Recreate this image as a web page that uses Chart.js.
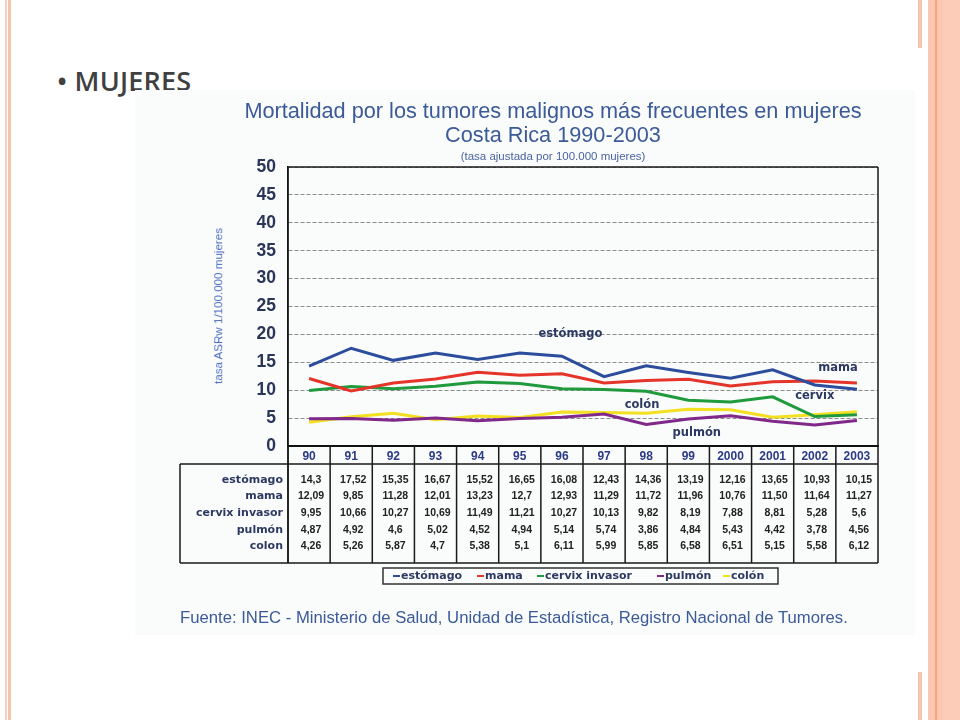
<!DOCTYPE html>
<html>
<head>
<meta charset="utf-8">
<script src="https://cdn.jsdelivr.net/npm/chart.js@4.4.0/dist/chart.umd.min.js"></script>
<style>
  html, body { margin: 0; padding: 0; background: #fff; }
  body { width: 960px; height: 720px; position: relative; overflow: hidden; font-family: Arial, "Liberation Sans", sans-serif; }
  .bar { position: absolute; }
  .txt { position: absolute; white-space: nowrap; line-height: 1; }
  .ctr { transform: translateX(-50%); }
  #wrap { position: absolute; left: 135px; top: 90px; width: 780px; height: 545px; background: #fafbfb; }
</style>
</head>
<body>
<!-- slide frame -->
<div class="bar" style="left:5px;top:0;width:2px;height:720px;background:#f8cdb9"></div>
<div class="bar" style="left:8px;top:0;width:3px;height:720px;background:#f6c2aa"></div>
<div class="bar" style="left:918px;top:0;width:4px;height:48px;background:#f8c6b0"></div>
<div class="bar" style="left:918px;top:672px;width:4px;height:48px;background:#f8c6b0"></div>
<div class="bar" style="left:928px;top:0;width:32px;height:720px;background:#fcc7b1"></div>
<div class="bar" style="left:935px;top:0;width:2px;height:720px;background:#f1a77f"></div>
<div class="bar" style="left:943px;top:0;width:17px;height:720px;background:#fdccb8"></div>

<div class="txt" style="left:57px;top:67px;font-family:'Open Sans';font-weight:600;font-size:27px;color:#404040;letter-spacing:0.2px">• MUJERES</div>
<div style="position:absolute;left:74px;top:671px;height:5px;overflow:hidden">
  <div class="txt" style="position:relative;font-family:'Open Sans';font-weight:600;font-size:27px;color:#555;letter-spacing:0.2px">HOMBRES</div>
</div>

<div id="wrap"><canvas id="chart" width="780" height="545"></canvas></div>

<div class="txt ctr" style="left:553px;top:100px;font-size:21.7px;color:#3b5a98">Mortalidad por los tumores malignos más frecuentes en mujeres</div>
<div class="txt ctr" style="left:553px;top:124px;font-size:21.7px;color:#3b5a98">Costa Rica 1990-2003</div>
<div class="txt ctr" style="left:553px;top:151px;font-size:11.5px;color:#4a64a0">(tasa ajustada por 100.000 mujeres)</div>
<div class="txt" style="left:218px;top:306px;font-size:11.6px;color:#4c6cc0;transform:translate(-50%,-50%) rotate(-90deg)">tasa ASRw 1/100.000 mujeres</div>
<div class="txt" style="left:180px;top:610px;font-size:16.7px;color:#3b5a98">Fuente: INEC - Ministerio de Salud, Unidad de Estadística, Registro Nacional de Tumores.</div>

<script>
// ── Données ────────────────────────────────────────────────────
const years = ['90', '91', '92', '93', '94', '95', '96', '97', '98', '99', '2000', '2001', '2002', '2003'];

const estomago = ['14,3', '17,52', '15,35', '16,67', '15,52', '16,65', '16,08', '12,43', '14,36', '13,19', '12,16', '13,65', '10,93', '10,15'];
const mama     = ['12,09', '9,85', '11,28', '12,01', '13,23', '12,7', '12,93', '11,29', '11,72', '11,96', '10,76', '11,50', '11,64', '11,27'];
const cervix   = ['9,95', '10,66', '10,27', '10,69', '11,49', '11,21', '10,27', '10,13', '9,82', '8,19', '7,88', '8,81', '5,28', '5,6'];
const pulmon   = ['4,87', '4,92', '4,6', '5,02', '4,52', '4,94', '5,14', '5,74', '3,86', '4,84', '5,43', '4,42', '3,78', '4,56'];
const colon    = ['4,26', '5,26', '5,87', '4,7', '5,38', '5,1', '6,11', '5,99', '5,85', '6,58', '6,51', '5,15', '5,58', '6,12'];

const tableRows    = [estomago, mama, cervix, pulmon, colon];
const rowNames     = ['estómago', 'mama', 'cervix invasor', 'pulmón', 'colon'];
const legendNames  = ['estómago', 'mama', 'cervix invasor', 'pulmón', 'colón'];
const colors       = ['#2c4d9c', '#e5352b', '#1f9a3c', '#80298a', '#f3e020'];

// étiquettes posées sur le graphique (index d'année, valeur)
const tagNames = ['estómago', 'mama', 'cervix', 'colón', 'pulmón'];
const tagX     = [6.2, 12.55, 12.0, 7.9, 9.2];
const tagY     = [20.1, 13.9, 8.9, 7.4, 2.4];

const toNum = s => parseFloat(s.replace(',', '.'));

const OX = 135, OY = 90;            // décalage du canvas dans la page
const TABLE_TOP = 464 - OY;
const TABLE_BOT = 563 - OY;
const TABLE_LEFT = 180 - OX;
const ROW_Y0 = 480 - OY, ROW_DY = 16.6;

// ── Plugin : cadre, tableau, étiquettes, légende ──────────────
const extras = {
  id: 'extras',
  afterDraw(chart) {
    const { ctx, chartArea: a, scales: { x, y } } = chart;
    const colW = x.getPixelForValue(1) - x.getPixelForValue(0);
    ctx.save();

    // cadre du graphique
    ctx.strokeStyle = '#1a1a1a';
    ctx.lineWidth = 1.5;
    ctx.beginPath();
    ctx.moveTo(a.left, a.top); ctx.lineTo(a.right, a.top);
    ctx.moveTo(a.right, a.top); ctx.lineTo(a.right, TABLE_BOT);
    ctx.moveTo(a.left, a.top); ctx.lineTo(a.left, TABLE_BOT);
    ctx.stroke();

    // tableau
    ctx.beginPath();
    years.forEach((_, i) => {
      const xb = x.getPixelForValue(i) - colW / 2;
      ctx.moveTo(xb, a.bottom); ctx.lineTo(xb, TABLE_BOT);
    });
    ctx.moveTo(TABLE_LEFT, TABLE_TOP); ctx.lineTo(a.right, TABLE_TOP);
    ctx.moveTo(TABLE_LEFT, TABLE_BOT); ctx.lineTo(a.right, TABLE_BOT);
    ctx.moveTo(TABLE_LEFT, TABLE_TOP); ctx.lineTo(TABLE_LEFT, TABLE_BOT);
    ctx.stroke();

    ctx.textBaseline = 'middle';
    rowNames.forEach((name, r) => {
      const yy = ROW_Y0 + r * ROW_DY;
      ctx.font = 'bold 11px "DejaVu Sans"';
      ctx.fillStyle = '#2c3a63';
      ctx.textAlign = 'right';
      ctx.fillText(name, a.left - 5, yy);
      ctx.font = 'bold 10.5px Arial';
      ctx.fillStyle = '#222';
      ctx.textAlign = 'center';
      tableRows[r].forEach((v, i) => ctx.fillText(v, x.getPixelForValue(i) + 2, yy));
    });

    // étiquettes des courbes
    ctx.font = 'bold 11.5px "DejaVu Sans"';
    ctx.fillStyle = '#2c3a63';
    ctx.textAlign = 'center';
    tagNames.forEach((t, i) => ctx.fillText(t, x.getPixelForValue(tagX[i]), y.getPixelForValue(tagY[i])));

    // légende
    const lx0 = 383 - OX, lx1 = 778 - OX, ly0 = 568 - OY, ly1 = 584 - OY;
    ctx.lineWidth = 1.5;
    ctx.strokeStyle = '#333';
    ctx.strokeRect(lx0, ly0, lx1 - lx0, ly1 - ly0);
    const itemX = [393, 477, 537, 657, 723];
    ctx.font = 'bold 11px "DejaVu Sans"';
    ctx.textAlign = 'left';
    legendNames.forEach((n, i) => {
      const px = itemX[i] - OX, py = (ly0 + ly1) / 2;
      ctx.strokeStyle = colors[i];
      ctx.lineWidth = 2;
      ctx.beginPath(); ctx.moveTo(px, py); ctx.lineTo(px + 7, py); ctx.stroke();
      ctx.fillStyle = '#2c3a63';
      ctx.fillText(n, px + 8, py + 0.5);
    });

    ctx.restore();
  }
};

// ── Graphique ─────────────────────────────────────────────────
new Chart(document.getElementById('chart'), {
  type: 'line',
  data: {
    labels: years,
    datasets: tableRows.map((row, i) => ({
      label: legendNames[i],
      data: row.map(toNum),
      borderColor: colors[i],
      borderWidth: 3,
      pointRadius: 0,
      tension: 0,
      fill: false,
    })),
  },
  options: {
    responsive: false,
    animation: false,
    devicePixelRatio: 1,
    layout: { padding: { left: 0, top: 77, right: 37, bottom: 0 } },
    plugins: { legend: { display: false }, tooltip: { enabled: false } },
    scales: {
      x: {
        offset: true,
        grid: { display: false, drawTicks: false },
        border: { display: true, color: '#111', width: 2 },
        ticks: { font: { family: 'Arial', weight: 'bold', size: 12 }, color: '#2b3b86', padding: 3, maxRotation: 0, autoSkip: false },
        afterFit: s => { s.height = 189; },
      },
      y: {
        min: 0,
        max: 50,
        ticks: { stepSize: 5, font: { family: 'Arial', weight: 'bold', size: 17.5 }, color: '#2a3658', padding: 12 },
        grid: { color: '#8c8c8c', lineWidth: 1, drawTicks: false },
        border: { display: true, color: '#111', width: 1.5, dash: [4, 2] },
        afterFit: s => { s.width = 153; },
      },
    },
  },
  plugins: [extras],
});
</script>
</body>
</html>
